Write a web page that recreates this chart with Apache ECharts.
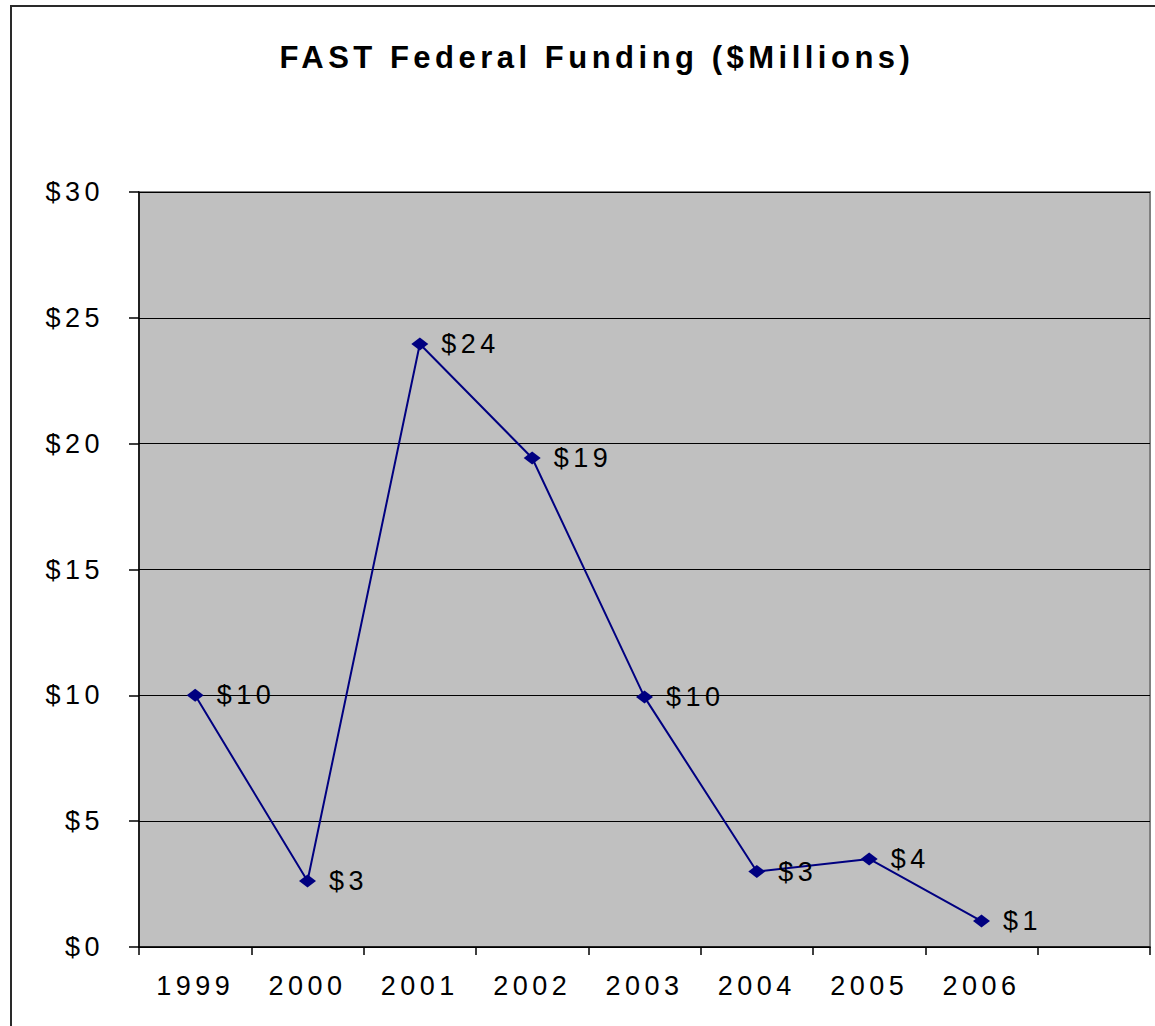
<!DOCTYPE html>
<html>
<head>
<meta charset="utf-8">
<script src="https://cdn.jsdelivr.net/npm/echarts@6/dist/echarts.min.js"></script>
<style>
  html, body { margin: 0; padding: 0; background: #fff; overflow: hidden; }
  #chart { width: 1155px; height: 1026px; position: absolute; left: 0; top: 0; }
  #chart text { letter-spacing: 4.5px; }
  #frame { position: absolute; left: 10px; top: 5px; width: 1200px; height: 1100px;
           border: 2px solid #2a2a2a; pointer-events: none; box-sizing: border-box; }
</style>
</head>
<body>
<div id="chart"></div>
<div id="frame"></div>
<script>
const titleText = 'FAST Federal Funding ($Millions)';
const categories = ['1999', '2000', '2001', '2002', '2003', '2004', '2005', '2006', ''];
const funding = [10.0, 2.62, 23.96, 19.43, 9.93, 3.0, 3.5, 1.03];
const yMin = 0, yMax = 30, yStep = 5;

const FONT = "'Liberation Sans', Arial, sans-serif";
const chart = echarts.init(document.getElementById('chart'), null, { renderer: 'svg' });
chart.setOption({
  animation: false,
  backgroundColor: 'transparent',
  title: {
    text: titleText,
    left: 592,
    textAlign: 'center',
    top: 37,
    textStyle: { fontFamily: FONT, fontSize: 31, fontWeight: 'bold', color: '#000' }
  },
  grid: {
    left: 139, right: 5, top: 192, bottom: 79,
    show: true, backgroundColor: '#c0c0c0', borderColor: '#808080', borderWidth: 2
  },
  xAxis: {
    type: 'category',
    data: categories,
    boundaryGap: true,
    axisLine: { show: true, lineStyle: { color: '#000', width: 1.5 } },
    axisTick: { show: true, interval: 0, length: 8, lineStyle: { color: '#000', width: 1.5 } },
    axisLabel: { interval: 0, margin: 25, fontFamily: FONT, fontSize: 27, color: '#000' },
    splitLine: { show: false }
  },
  yAxis: {
    type: 'value',
    min: yMin, max: yMax, interval: yStep,
    axisLine: { show: true, lineStyle: { color: '#000', width: 1.5 } },
    axisTick: { show: true, length: 10, lineStyle: { color: '#000', width: 1.5 } },
    axisLabel: { margin: 35, fontFamily: FONT, fontSize: 27, color: '#000', formatter: v => '$' + v },
    splitLine: { show: true, lineStyle: { color: '#000', width: 1 } }
  },
  series: [{
    type: 'line',
    data: funding,
    symbol: 'diamond',
    symbolSize: [17, 13],
    itemStyle: { color: '#000080' },
    lineStyle: { color: '#000080', width: 2 },
    label: {
      show: true, position: 'right', distance: 13,
      fontFamily: FONT, fontSize: 27, color: '#000',
      formatter: p => '$' + Math.round(p.value)
    }
  }]
});
</script>
</body>
</html>
